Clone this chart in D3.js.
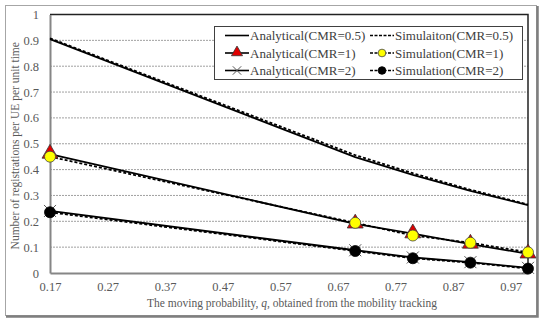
<!DOCTYPE html>
<html>
<head>
<meta charset="utf-8">
<script src="https://cdn.jsdelivr.net/npm/d3@7"></script>
<style>
  body { margin: 0; background: #fff; }
  svg text { font-family: "Liberation Serif", "DejaVu Serif", "Times New Roman", serif; }
</style>
</head>
<body>
<div id="chart"></div>
<script>
// data
var qValues = [0.17, 0.7, 0.8, 0.9, 1.0];
var xTicks = [0.17, 0.27, 0.37, 0.47, 0.57, 0.67, 0.77, 0.87, 0.97];
var yTicks = [0, 0.1, 0.2, 0.3, 0.4, 0.5, 0.6, 0.7, 0.8, 0.9, 1];

var anaCmr05 = [0.905, 0.448, 0.380, 0.318, 0.263];
var simCmr05 = [0.908, 0.456, 0.386, 0.322, 0.265];
var anaCmr1  = [0.460, 0.190, 0.152, 0.112, 0.074];
var simCmr1  = [0.450, 0.194, 0.145, 0.117, 0.080];
var anaCmr2  = [0.240, 0.088, 0.060, 0.042, 0.020];
var simCmr2  = [0.235, 0.085, 0.057, 0.040, 0.017];

var seriesNames = ["Analytical(CMR=0.5)", "Simulaiton(CMR=0.5)",
                   "Analytical(CMR=1)", "Simulation(CMR=1)",
                   "Analytical(CMR=2)", "Simulation(CMR=2)"];

var W = 550, H = 323;
var plot = { left: 50, top: 14.5, right: 528, bottom: 273 };
var FONT = '"Liberation Serif", "DejaVu Serif", "Times New Roman", serif';

var svg = d3.select('#chart').append('svg')
  .attr('width', W).attr('height', H);

// outer frame with a bit of shadow on right/bottom
svg.append('rect')
  .attr('x', 5.5).attr('y', 5.5).attr('width', 531).attr('height', 310)
  .attr('fill', '#fff').attr('stroke', '#a6a6a6').attr('stroke-width', 1);
svg.append('path')
  .attr('d', 'M537.5,6 V316.5 H6')
  .attr('fill', 'none').attr('stroke', '#7f7f7f').attr('stroke-width', 2.5);

var x = d3.scaleLinear().domain([0.17, 1.0]).range([plot.left, plot.right]);
var y = d3.scaleLinear().domain([0, 1]).range([plot.bottom, plot.top]);

// gridlines
svg.append('g').selectAll('line')
  .data(yTicks.filter(function(d) { return d > 0 && d < 1; }))
  .enter().append('line')
  .attr('x1', plot.left).attr('x2', plot.right)
  .attr('y1', function(d) { return y(d); }).attr('y2', function(d) { return y(d); })
  .attr('stroke', '#a0a0a0').attr('stroke-width', 1)
  .attr('stroke-dasharray', '2,1');

// plot border (top + right black)
svg.append('path')
  .attr('d', 'M' + plot.left + ',' + y(1) + ' H' + plot.right + ' V' + plot.bottom)
  .attr('fill', 'none').attr('stroke', '#222').attr('stroke-width', 1.5);

// axes
var xAxis = d3.axisBottom(x).tickValues(xTicks).tickSize(0).tickPadding(9)
  .tickFormat(d3.format('.2f'));
var gx = svg.append('g').attr('transform', 'translate(0,' + plot.bottom + ')').call(xAxis)
  .attr('font-family', FONT);
gx.select('.domain').attr('stroke', '#868686').attr('stroke-width', 2);
gx.selectAll('text').attr('font-size', 12.5).attr('fill', '#595959');

var yAxis = d3.axisLeft(y).tickValues(yTicks).tickSize(0).tickPadding(11)
  .tickFormat(function(d) { return d3.format('')(d); });
var gy = svg.append('g').attr('transform', 'translate(' + plot.left + ',0)').call(yAxis)
  .attr('font-family', FONT);
gy.select('.domain').attr('stroke', '#868686').attr('stroke-width', 2);
gy.selectAll('text').attr('font-size', 12.5).attr('fill', '#595959');

// axis titles
svg.append('text')
  .attr('transform', 'translate(19,' + ((plot.top + plot.bottom) / 2 + 2) + ') rotate(-90)')
  .attr('text-anchor', 'middle').attr('font-size', 11.5).attr('fill', '#595959')
  .text('Number of registrations per UE per unit time');

var xt = svg.append('text')
  .attr('x', 292).attr('y', 307)
  .attr('text-anchor', 'middle').attr('font-size', 11.5).attr('fill', '#595959');
xt.append('tspan').text('The moving probability, ');
xt.append('tspan').attr('font-style', 'italic').text('q');
xt.append('tspan').text(', obtained from the mobility tracking');

// series
function pts(vals) {
  return qValues.map(function(q, i) { return [q, vals[i]]; });
}
var line = d3.line()
  .x(function(d) { return x(d[0]); })
  .y(function(d) { return y(d[1]); });

var series = [
  { vals: anaCmr05, dash: null,  marker: null },
  { vals: anaCmr1,  dash: null,  marker: 'tri' },
  { vals: anaCmr2,  dash: null,  marker: 'x' },
  { vals: simCmr05, dash: '3,2', marker: null },
  { vals: simCmr1,  dash: '3,2', marker: 'yellow' },
  { vals: simCmr2,  dash: '3,2', marker: 'black' }
];

var tri = d3.symbol().type(d3.symbolTriangle);

function drawMarker(g, kind, cx, cy, scale) {
  scale = scale || 1;
  if (kind === 'tri') {
    g.append('path').attr('d', tri.size(110 * scale * scale)())
      .attr('transform', 'translate(' + cx + ',' + (cy - 0.5) + ')')
      .attr('fill', '#e00000').attr('stroke', '#333').attr('stroke-width', 0.8);
  } else if (kind === 'x') {
    var s = 6 * scale;
    g.append('path')
      .attr('d', 'M' + (cx - s) + ',' + (cy - s) + 'L' + (cx + s) + ',' + (cy + s) +
                 'M' + (cx - s) + ',' + (cy + s) + 'L' + (cx + s) + ',' + (cy - s))
      .attr('stroke', '#555').attr('stroke-width', 1);
  } else if (kind === 'yellow') {
    g.append('circle').attr('cx', cx).attr('cy', cy).attr('r', 5.5 * scale)
      .attr('fill', '#ffff00').attr('stroke', '#444').attr('stroke-width', 0.8);
  } else if (kind === 'black') {
    g.append('circle').attr('cx', cx).attr('cy', cy).attr('r', 5.5 * scale)
      .attr('fill', '#000').attr('stroke', '#000').attr('stroke-width', 0.8);
  }
}

var gs = svg.append('g');
series.forEach(function(s) {
  gs.append('path').datum(pts(s.vals))
    .attr('d', line).attr('fill', 'none')
    .attr('stroke', '#000').attr('stroke-width', 1.8)
    .attr('stroke-dasharray', s.dash);
});
series.forEach(function(s) {
  if (!s.marker) return;
  pts(s.vals).forEach(function(d) {
    drawMarker(gs, s.marker, x(d[0]), y(d[1]));
  });
});

// legend
var lg = svg.append('g');
lg.append('rect').attr('x', 214.5).attr('y', 26.5).attr('width', 308).attr('height', 53)
  .attr('fill', '#fff').attr('stroke', '#404040').attr('stroke-width', 1);

var legendItems = [
  { name: seriesNames[0], dash: null,  marker: null,     col: 0, row: 0 },
  { name: seriesNames[1], dash: '3,1.5', marker: null,   col: 1, row: 0 },
  { name: seriesNames[2], dash: null,  marker: 'tri',    col: 0, row: 1 },
  { name: seriesNames[3], dash: '3,1.5', marker: 'yellow', col: 1, row: 1 },
  { name: seriesNames[4], dash: null,  marker: 'x',      col: 0, row: 2 },
  { name: seriesNames[5], dash: '3,1.5', marker: 'black', col: 1, row: 2 }
];
var colX = [225, 370];
var rowY = [35.5, 53, 70.5];
legendItems.forEach(function(it) {
  var x0 = colX[it.col], yy = rowY[it.row];
  lg.append('line').attr('x1', x0).attr('x2', x0 + 24).attr('y1', yy).attr('y2', yy)
    .attr('stroke', '#000').attr('stroke-width', 1.6).attr('stroke-dasharray', it.dash);
  if (it.marker) drawMarker(lg, it.marker, x0 + 12, yy, 0.7);
  lg.append('text').attr('x', x0 + 25).attr('y', yy + 4.5)
    .attr('font-size', 13).attr('fill', '#404040').text(it.name);
});
</script>
</body>
</html>
